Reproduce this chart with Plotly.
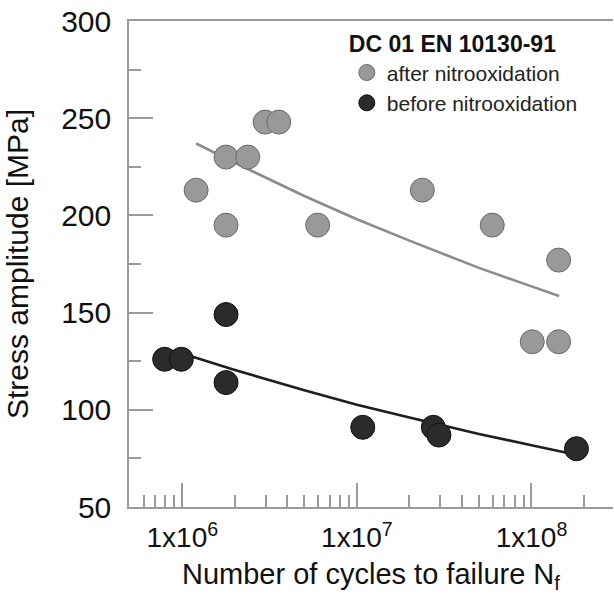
import plotly.graph_objects as go
import math

# ---- data ----
after_N = [2.98e6, 3.57e6, 1.78e6, 2.37e6, 1.2e6, 1.78e6, 5.96e6, 2.37e7, 5.96e7, 1.43e8, 1.01e8, 1.43e8]
after_S = [248, 248, 230, 230, 213, 195, 195, 213, 195, 177, 135, 135]

before_N = [1.78e6, 7.92e5, 9.87e5, 1.78e6, 1.08e7, 2.74e7, 2.95e7, 1.81e8]
before_S = [149, 126, 126, 114, 91, 91, 87, 80]

# trend lines
after_fit_N = [1.2e6, 2e6, 5e6, 1e7, 2e7, 5e7, 1e8, 1.44e8]
after_fit_S = [237, 227, 210, 198, 187, 173, 163.5, 158.5]

before_fit_N = [1e6, 2e6, 5e6, 1e7, 2e7, 5e7, 1e8, 1.72e8]
before_fit_S = [129, 120.5, 110, 102.6, 96, 87.6, 81.8, 77.3]

x_major = [1e6, 1e7, 1e8]
x_major_text = ["1x10<sup>6</sup>", "1x10<sup>7</sup>", "1x10<sup>8</sup>"]
x_minor = [m * 10 ** e for e in (5, 6, 7, 8) for m in range(2, 10)]

legend_title = "<b>DC 01 EN 10130-91</b>"
name_after = "after nitrooxidation"
name_before = "before nitrooxidation"

FONT = "Liberation Sans, Arial, sans-serif"
AX = "#9a9a9a"

fig = go.Figure()
fig.add_trace(go.Scatter(x=after_fit_N, y=after_fit_S, mode="lines",
                         line=dict(color="#8c8c8c", width=2.6), showlegend=False, hoverinfo="skip"))
fig.add_trace(go.Scatter(x=before_fit_N, y=before_fit_S, mode="lines",
                         line=dict(color="#1e1e1e", width=2.6), showlegend=False, hoverinfo="skip"))
fig.add_trace(go.Scatter(x=after_N, y=after_S, mode="markers", name=name_after,
                         marker=dict(size=24, color="#999999", line=dict(color="#6a6a6a", width=1))))
fig.add_trace(go.Scatter(x=before_N, y=before_S, mode="markers", name=name_before,
                         marker=dict(size=24, color="#2b2b2b", line=dict(color="#111111", width=1))))

fig.update_layout(
    width=614, height=594,
    margin=dict(l=129, r=1, t=21, b=87),
    paper_bgcolor="white", plot_bgcolor="white",
    font=dict(family=FONT, color="#111111"),
    legend=dict(
        x=0.45, y=0.997, xanchor="left", yanchor="top",
        bgcolor="rgba(0,0,0,0)",
        font=dict(size=21, family=FONT, color="#222222"),
        title=dict(text=legend_title, font=dict(size=23, family=FONT, color="#111111")),
        tracegroupgap=0, itemwidth=30,
    ),
    xaxis=dict(
        type="log", range=[math.log10(4.95e5), math.log10(2.93e8)],
        automargin=False,
        showline=True, linecolor=AX, linewidth=1.5, mirror=True,
        showgrid=False, zeroline=False,
        tickmode="array", tickvals=x_major, ticktext=x_major_text,
        ticks="inside", ticklen=24, tickcolor=AX, tickwidth=1.5,
        tickfont=dict(size=28, family=FONT, color="#111111"),
        ticklabelstandoff=5,
        minor=dict(tickmode="array", tickvals=x_minor, ticks="inside", ticklen=12,
                   tickcolor=AX, tickwidth=1.5, showgrid=False),
        title=dict(text="Number of cycles to failure N<sub>f</sub>",
                   font=dict(size=29, family=FONT, color="#111111"), standoff=13),
    ),
    yaxis=dict(
        range=[50, 300],
        automargin=False,
        showline=True, linecolor=AX, linewidth=1.5,
        showgrid=False, zeroline=False,
        tickmode="linear", tick0=50, dtick=50,
        ticks="inside", ticklen=24, tickcolor=AX, tickwidth=1.5,
        tickfont=dict(size=30, family=FONT, color="#111111"),
        ticklabelstandoff=10,
        minor=dict(dtick=25, ticks="inside", ticklen=12, tickcolor=AX, tickwidth=1.5, showgrid=False),
        title=dict(text="Stress amplitude [MPa]",
                   font=dict(size=30, family=FONT, color="#111111"), standoff=24),
    ),
)

fig.write_html(
    "out.html",
    config={"displayModeBar": False},
    post_script="document.body.style.margin='0';document.body.style.overflow='hidden';",
)
